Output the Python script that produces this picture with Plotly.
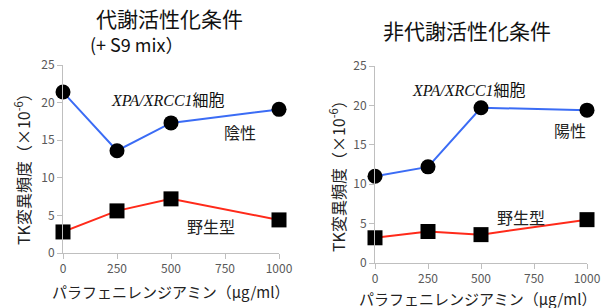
import plotly.graph_objects as go

doses = [0, 250, 500, 1000]
tick_vals = [0, 250, 500, 750, 1000]
tick_text = ["0", "250", "500", "750", "1000"]
y_ticks = [0, 5, 10, 15, 20, 25]

left_xpa = [21.4, 13.6, 17.3, 19.1]
left_wt = [2.8, 5.6, 7.2, 4.4]
right_xpa = [11.0, 12.2, 19.7, 19.4]
right_wt = [3.2, 4.0, 3.6, 5.5]

W, H = 602, 308
JP = "Noto Sans CJK JP"

def px(x):
    return x / W

def py(y):
    return 1 - y / H

fig = go.Figure()

def add_series(xref, yref, xpa, wt):
    fig.add_trace(go.Scatter(x=doses, y=xpa, xaxis=xref, yaxis=yref, mode="lines+markers",
                             line=dict(color="#3b6cf5", width=2),
                             marker=dict(symbol="circle", size=15, color="black"),
                             cliponaxis=False, showlegend=False))
    fig.add_trace(go.Scatter(x=doses, y=wt, xaxis=xref, yaxis=yref, mode="lines+markers",
                             line=dict(color="#ff2a1a", width=2),
                             marker=dict(symbol="square", size=15, color="black"),
                             cliponaxis=False, showlegend=False))

add_series("x", "y", left_xpa, left_wt)
add_series("x2", "y2", right_xpa, right_wt)

axis_common = dict(showgrid=False, zeroline=False, showline=True, linecolor="#bfbfbf",
                   linewidth=1, ticks="outside", tickcolor="#bfbfbf", ticklen=5,
                   automargin=False,
                   tickfont=dict(family=JP, size=12, color="#595959"))

fig.update_layout(
    width=W, height=H, margin=dict(l=0, r=0, t=0, b=0, pad=0),
    paper_bgcolor="white", plot_bgcolor="white",
    xaxis=dict(domain=[px(63), px(279)], range=[0, 1000], tickvals=tick_vals, ticktext=tick_text,
               anchor="y", **axis_common),
    yaxis=dict(domain=[py(253), py(65)], range=[0, 25], tickvals=y_ticks, anchor="x", **axis_common),
    xaxis2=dict(domain=[px(375), px(587)], range=[0, 1000], tickvals=tick_vals, ticktext=tick_text,
                anchor="y2", **axis_common),
    yaxis2=dict(domain=[py(263), py(66)], range=[0, 25], tickvals=y_ticks, anchor="x2", **axis_common),
)

def ann(text, x, y, size, angle=0, color="#222222"):
    fig.add_annotation(text=text, x=px(x), y=py(y), xref="paper", yref="paper",
                       showarrow=False, textangle=angle, xanchor="center", yanchor="middle",
                       font=dict(family=JP, size=size, color=color))

ann("代謝活性化条件", 169, 18, 21, color="#111111")
ann("(+ S9 mix）", 136, 44, 18, color="#111111")
ann("非代謝活性化条件", 467, 30, 21, color="#111111")

ytitle = "TK変異頻度（×10<sup>-6</sup>）"
ann(ytitle, 22, 165, 16, angle=-90)
ann(ytitle, 337, 172, 16, angle=-90)

xtitle = "パラフェニレンジアミン（μg/ml）"
ann(xtitle, 170, 291, 15)
ann(xtitle, 477, 298, 15)

cell = ('<span style="font-family:Liberation Serif;font-style:italic;font-weight:normal">XPA/XRCC1</span>細胞')
ann(cell, 168, 99, 16, color="#111111")
ann(cell, 469, 89, 16, color="#111111")
ann("陰性", 240, 132, 16)
ann("陽性", 570, 130, 16)
ann("野生型", 211, 226, 16)
ann("野生型", 521, 217, 16)

fig.write_html("out.html", config={"displayModeBar": False},
               post_script="document.body.style.margin='0';")
